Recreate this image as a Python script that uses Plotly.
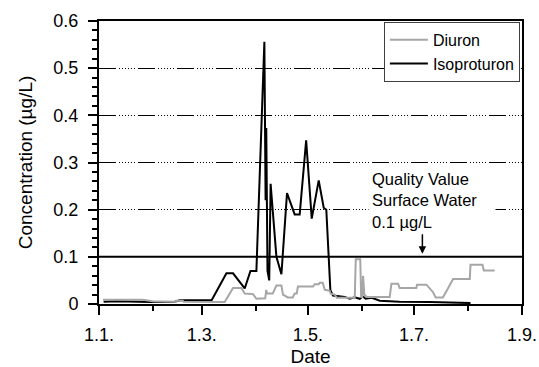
import plotly.graph_objects as go

# ---- data ----
isoproturon_dates = [
    "2007-01-03 16:00", "2007-01-11", "2007-01-30", "2007-02-13 12:00", "2007-02-16 10:00",
    "2007-03-06 17:00", "2007-03-15 05:00", "2007-03-19", "2007-03-25 17:00", "2007-03-29",
    "2007-04-01 10:00", "2007-04-06", "2007-04-06 17:00", "2007-04-07 02:00", "2007-04-07 19:00",
    "2007-04-08 19:00", "2007-04-09 14:00", "2007-04-12 22:00", "2007-04-15 19:00", "2007-04-19",
    "2007-04-23 10:00", "2007-04-26 07:00", "2007-04-30", "2007-05-03 05:00", "2007-05-07 05:00",
    "2007-05-10 02:00", "2007-05-11 14:00", "2007-05-13 22:00", "2007-05-15 10:00", "2007-05-19 07:00",
    "2007-05-22 05:00", "2007-05-25", "2007-05-27 22:00", "2007-05-30 19:00", "2007-06-01 12:00",
    "2007-06-03 05:00", "2007-06-06 17:00", "2007-06-11 07:00", "2007-06-22 14:00", "2007-07-10",
    "2007-08-02 10:00",
]
isoproturon_values = [
    0.005, 0.006, 0.004, 0.005, 0.008,
    0.008, 0.065, 0.065, 0.033, 0.070,
    0.070, 0.556, 0.220, 0.373, 0.070,
    0.050, 0.255, 0.100, 0.063, 0.235,
    0.190, 0.190, 0.347, 0.181, 0.262,
    0.204, 0.200, 0.029, 0.018, 0.016,
    0.015, 0.011, 0.014, 0.011, 0.016,
    0.011, 0.013, 0.007, 0.005, 0.004,
    0.002,
]

diuron_dates = [
    "2007-01-03 07:00", "2007-01-26 02:00", "2007-01-31 19:00", "2007-02-07 17:00", "2007-02-14 02:00",
    "2007-02-14 14:00", "2007-02-18 02:00", "2007-02-18 17:00", "2007-02-27 22:00", "2007-03-14 05:00",
    "2007-03-19", "2007-03-23 19:00", "2007-03-25 17:00", "2007-03-30 12:00", "2007-04-01 10:00",
    "2007-04-05 05:00", "2007-04-06 12:00", "2007-04-07 02:00", "2007-04-07 14:00", "2007-04-10 19:00",
    "2007-04-12 22:00", "2007-04-15 19:00", "2007-04-16 17:00", "2007-04-19 10:00", "2007-04-22 07:00",
    "2007-04-23 10:00", "2007-04-24 14:00", "2007-04-25 07:00", "2007-05-03 22:00", "2007-05-04 22:00",
    "2007-05-07 05:00", "2007-05-07 19:00", "2007-05-09 12:00", "2007-05-10 17:00", "2007-05-13 12:00",
    "2007-05-14 02:00", "2007-05-16 10:00", "2007-05-17 14:00", "2007-05-27 22:00", "2007-05-28 12:00",
    "2007-05-31 02:00", "2007-05-31 14:00", "2007-06-01 05:00", "2007-06-01 17:00", "2007-06-02 10:00",
    "2007-06-03 19:00", "2007-06-17", "2007-06-18", "2007-06-21 19:00", "2007-06-22 17:00",
    "2007-07-02 07:00", "2007-07-02 17:00", "2007-07-08 02:00", "2007-07-11 22:00", "2007-07-13 10:00",
    "2007-07-17 14:00", "2007-07-23 10:00", "2007-08-02", "2007-08-02 10:00", "2007-08-09 07:00",
    "2007-08-10 02:00", "2007-08-16 07:00",
]
diuron_values = [
    0.009, 0.009, 0.006, 0.005, 0.005,
    0.007, 0.007, 0.005, 0.005, 0.004,
    0.034, 0.034, 0.022, 0.021, 0.011,
    0.011, 0.012, 0.030, 0.022, 0.022,
    0.039, 0.039, 0.020, 0.014, 0.014,
    0.022, 0.022, 0.037, 0.037, 0.042,
    0.042, 0.045, 0.045, 0.030, 0.028,
    0.022, 0.020, 0.013, 0.013, 0.095,
    0.095, 0.015, 0.015, 0.060, 0.020,
    0.015, 0.015, 0.043, 0.043, 0.034,
    0.034, 0.041, 0.041, 0.025, 0.014,
    0.014, 0.053, 0.053, 0.083, 0.083,
    0.071, 0.071,
]

quality_value = 0.1
x_range = ["2007-01-01", "2007-09-01"]
y_range = [0, 0.6]
annotation_text = "Quality Value<br>Surface Water<br>0.1 µg/L"

FONT = "Liberation Sans, Arial, sans-serif"

fig = go.Figure()
fig.add_trace(go.Scatter(
    x=isoproturon_dates, y=isoproturon_values, mode="lines", name="Isoproturon",
    line=dict(color="black", width=2), legendrank=2,
))
fig.add_trace(go.Scatter(
    x=diuron_dates, y=diuron_values, mode="lines", name="Diuron",
    line=dict(color="#a6a6a6", width=2), legendrank=1,
))

fig.add_hline(y=quality_value, line=dict(color="black", width=2), layer="above")

# annotation text
fig.add_annotation(
    xref="paper", yref="paper", x=0.636, y=0.367, xanchor="left", yanchor="middle",
    text=annotation_text, showarrow=False, align="left", width=120, borderpad=3,
    bgcolor="white", font=dict(family=FONT, size=16.5, color="black"),
)
# arrow to the quality line
fig.add_annotation(
    xref="paper", yref="y", x=0.7645, y=quality_value, text="", showarrow=True,
    ax=0, ay=-24, arrowhead=2, arrowsize=1, arrowwidth=1.5, arrowcolor="black", standoff=3,
)

fig.update_layout(
    width=539, height=367,
    margin=dict(l=99, r=17, t=21, b=63, autoexpand=False),
    paper_bgcolor="white", plot_bgcolor="white",
    font=dict(family=FONT, size=18, color="black"),
    showlegend=True,
    legend=dict(
        x=0.995, y=0.997, xanchor="right", yanchor="top",
        bgcolor="white", bordercolor="#404040", borderwidth=1,
        font=dict(family=FONT, size=16, color="black"),
        tracegroupgap=0, itemwidth=38,
    ),
)

fig.update_xaxes(
    type="date", range=x_range, automargin=False,
    tick0="2007-01-01", dtick="M2", tickformat="%-d.%-m.",
    ticks="outside", ticklen=9, tickwidth=2, tickcolor="black",
    minor=dict(dtick="M1", tick0="2007-01-01", ticks="outside", ticklen=5, tickwidth=2, tickcolor="black"),
    showline=True, linecolor="black", linewidth=2, mirror=True,
    showgrid=False, zeroline=False,
    title=dict(text="Date", font=dict(size=19), standoff=15),
    ticklabelstandoff=4,
)
fig.update_yaxes(
    range=y_range, dtick=0.1, tick0=0, automargin=False,
    ticks="outside", ticklen=9, tickwidth=2, tickcolor="black",
    minor=dict(dtick=0.02, ticks="outside", ticklen=5, tickwidth=2, tickcolor="black"),
    showline=True, linecolor="black", linewidth=2, mirror=True,
    showgrid=True, gridcolor="black", gridwidth=1,
    griddash="17px,3px,1px,2px,1px,2px,1px,2px,1px,2px,1px,2px,1px,3px",
    zeroline=False,
    title=dict(text="Concentration (µg/L)", font=dict(size=19), standoff=16),
    ticklabelstandoff=6,
)

fig.write_html(
    "out.html",
    config={"displayModeBar": False},
    post_script="document.body.style.margin='0';document.body.style.padding='0';",
)
